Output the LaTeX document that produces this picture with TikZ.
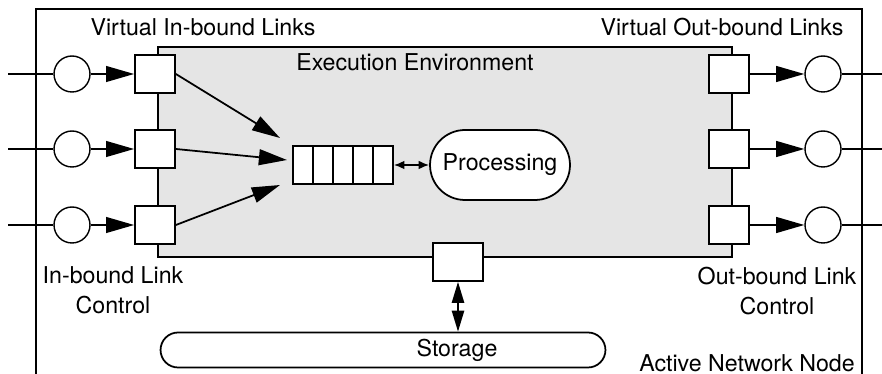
\documentclass[tikz,border=0pt]{standalone}
\usepackage{fontspec}
\setmainfont{TeX Gyre Heros}
\usetikzlibrary{arrows.meta,shapes.misc}
\tikzset{
    port/.style={draw,fill=white,line width=1pt,minimum width=0.8cm,minimum height=0.76cm,inner sep=0pt},
    link/.style={draw,circle,fill=white,line width=0.8pt,minimum size=0.72cm,inner sep=0pt},
    cell/.style={draw,fill=white,line width=1pt,minimum width=0.4cm,minimum height=0.76cm,inner sep=0pt},
    flow/.style={line width=1pt,-{Triangle[length=16pt,width=9pt]}},
    txt/.style={font=\fontsize{13.2}{15}\selectfont,inner sep=0pt},
  }
\begin{document}
\begin{tikzpicture}[x=0.02cm,y=-0.02cm]
				  \useasboundingbox (0,0) rectangle (882,374);
				  % active network node frame
				  \draw[line width=1.1pt] (36,374) |- (862,9) -- (862,374);
				  \node[draw,line width=1pt,fill=gray!20,minimum width=11.48cm,minimum height=4.2cm,inner sep=0pt] (env) at (445,152) {};
				  \node[txt] (envtxt) at (415,62) {Execution Environment};
				  \node[txt] (vin) at (203,27) {Virtual In-bound Links};
				  \node[txt] (vout) at (722,27) {Virtual Out-bound Links};
				  \node[txt,align=center] (inctl) at (113,290) {In-bound Link\\[2pt]Control};
				  \node[txt,align=center] (outctl) at (777,291) {Out-bound Link\\[2pt]Control};
				  \node[txt] (ann) at (747,363) {Active Network Node};
				  % links
				  \foreach \i/\y in {1/74,2/149,3/225}{
				    \coordinate (src\i) at (8,\y);
				    \coordinate (dst\i) at (882,\y);
				    \node[link] (cin\i) at (72,\y) {};
				    \node[port] (pin\i) at (155,\y) {};
				    \node[port] (pout\i) at (729,\y) {};
				    \node[link] (cout\i) at (823,\y) {};
				    \draw[line width=1pt] (src\i) -- (cin\i.west);
				    \draw[flow] (cin\i.east) -- (pin\i.west);
				    \draw[flow] (pout\i.east) -- (cout\i.west);
				    \draw[line width=1pt] (cout\i.east) -- (dst\i);
				  }
				  % queue
				  \foreach \i in {1,...,5}
				    \node[cell] (q\i) at (283+20*\i,165) {};
				  \coordinate (qa) at (280,138);
				  \coordinate (qb) at (287,160);
				  \coordinate (qc) at (280,185);
				  \draw[flow] (pin1.east) -- (qa);
				  \draw[flow] (pin2.east) -- (qb);
				  \draw[flow] (pin3.east) -- (qc);
				  \node[draw,rounded rectangle,fill=white,line width=1pt,minimum width=2.8cm,minimum height=1.4cm,txt] (proc) at (500,165) {Processing};
				  \draw[line width=1pt,{Latex[length=6pt,width=5pt]}-{Latex[length=6pt,width=5pt]}] (q5.east) -- (proc.west);
				  % storage
				  \node[port,minimum width=1cm] (sport) at (458,262) {};
				  \node[draw,rounded rectangle,line width=1pt,minimum width=8.9cm,minimum height=0.7cm,inner sep=0pt] (store) at (383,350) {};
				  \node[txt] (storetxt) at (457,350) {Storage};
				  \draw[line width=1pt,{Triangle[length=12pt,width=7pt]}-{Triangle[length=12pt,width=7pt]}] (sport.south) -- (sport.south |- store.north);
				  \end{tikzpicture}
\end{document}
